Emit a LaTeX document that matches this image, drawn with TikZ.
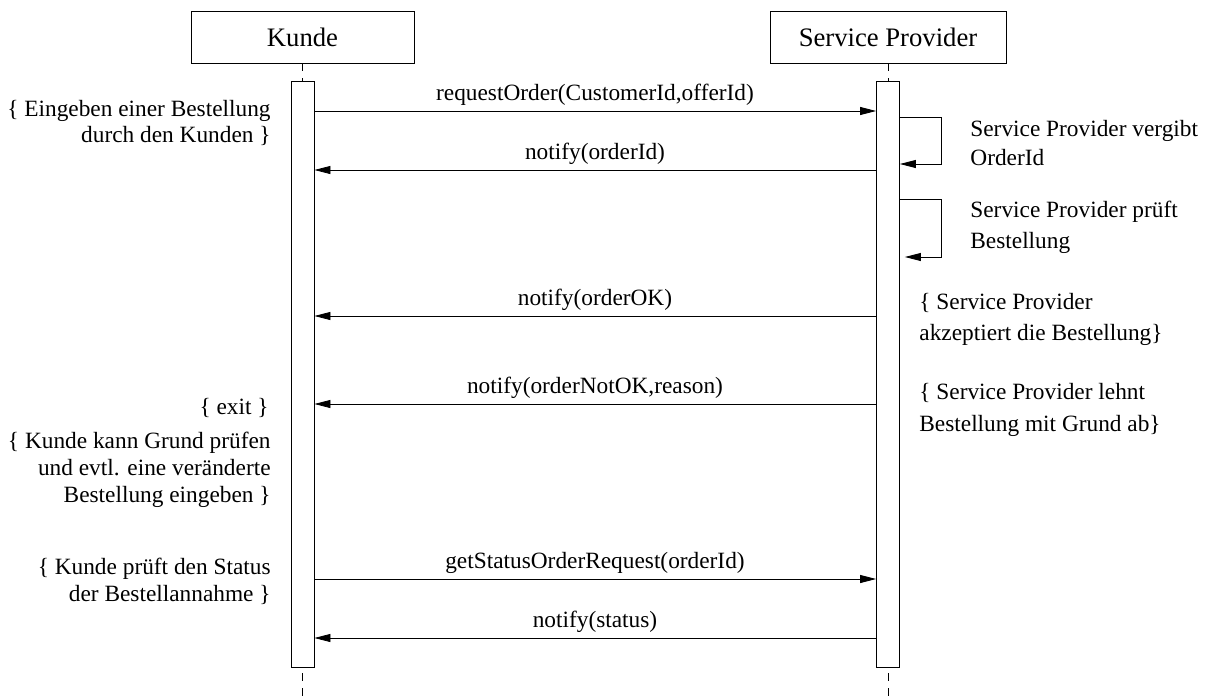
\documentclass[tikz,border=0pt]{standalone}
\usepackage{fontspec}
\setmainfont{Liberation Serif}
\usetikzlibrary{arrows.meta}
\begin{document}
\begin{tikzpicture}[x=0.75pt,y=-0.75pt,
  line width=0.6pt,
  actor/.style={draw, minimum height=39pt, inner sep=0pt,
    font=\fontsize{20pt}{24pt}\selectfont},
  actbar/.style={draw, fill=white, minimum width=17.25pt,
    minimum height=439.5pt, inner sep=0pt},
  life/.style={dash pattern=on 6pt off 5.25pt},
  msg/.style={-{Triangle[length=12pt,width=6pt]}},
  lbl/.style={font=\fontsize{17.5pt}{21pt}\selectfont, inner sep=0pt, anchor=base},
  note/.style={font=\fontsize{17.5pt}{#1}\selectfont, inner sep=0pt},
]
\useasboundingbox (0,0) rectangle (1207,696);

% participants and activation bars
\node[actor, minimum width=167.25pt] (kunde) at (302.5,37) {Kunde};
\node[actor, minimum width=177pt] (sp) at (888,37) {Service Provider};
\node[actbar] (kb) at (302.5,374) {};
\node[actbar] (sb) at (888,374) {};
\coordinate (kend) at (302.5,696);
\coordinate (send) at (888,696);

% lifelines
\draw[life] (kunde.south) -- (kb.north);
\draw[life] (sp.south) -- (sb.north);
\draw[life, dash phase=6.75pt] (kb.south) -- (kend);
\draw[life, dash phase=6.75pt] (sb.south) -- (send);

% message levels
\coordinate (m1) at (0,111);
\coordinate (m2) at (0,170);
\coordinate (m3) at (0,316);
\coordinate (m4) at (0,404);
\coordinate (m5) at (0,579);
\coordinate (m6) at (0,638);
\coordinate (s1a) at (0,117);
\coordinate (s1b) at (0,164);
\coordinate (s2a) at (0,199);
\coordinate (s2b) at (0,257);

% messages
\draw[msg] (kb.east |- m1) -- (sb.west |- m1);
\draw[msg] (sb.west |- m2) -- (kb.east |- m2);
\draw[msg] (sb.west |- m3) -- (kb.east |- m3);
\draw[msg] (sb.west |- m4) -- (kb.east |- m4);
\draw[msg] (kb.east |- m5) -- (sb.west |- m5);
\draw[msg] (sb.west |- m6) -- (kb.east |- m6);

% self messages
\draw[msg] (sb.east |- s1a) -- ++(41,0) |- (sb.east |- s1b);
\draw[msg] (sb.east |- s2a) -- ++(41,0) |- ([xshift=3.75pt]sb.east |- s2b);

% message labels
\node[lbl] (t1) at (595,100) {requestOrder(CustomerId,offerId)};
\node[lbl] (t2) at (595,159) {notify(orderId)};
\node[lbl] (t3) at (595,305) {notify(orderOK)};
\node[lbl] (t4) at (595,393) {notify(orderNotOK,reason)};
\node[lbl] (t5) at (595,568) {getStatusOrderRequest(orderId)};
\node[lbl] (t6) at (595,627) {notify(status)};

% notes beside the Kunde lifeline
\node[note=19.5pt, anchor=base east] (n1) at (271,116)
  {\begin{tabular}[t]{@{}r@{}}\{ Eingeben einer Bestellung\\ durch den Kunden \}\end{tabular}};
\node[note=19.5pt, anchor=base east] (n2) at (269,414) {\{ exit \}};
\node[note=20.25pt, anchor=base east] (n3) at (271,448)
  {\begin{tabular}[t]{@{}r@{}}\{ Kunde kann Grund prüfen\\ und evtl. eine veränderte\\ Bestellung eingeben \}\end{tabular}};
\node[note=20.25pt, anchor=base east] (n4) at (271,574)
  {\begin{tabular}[t]{@{}r@{}}\{ Kunde prüft den Status\\ der Bestellannahme \}\end{tabular}};

% notes beside the Service Provider lifeline
\node[note=21.75pt, anchor=base west] (r1) at (970,136)
  {\begin{tabular}[t]{@{}l@{}}Service Provider vergibt\\ OrderId\end{tabular}};
\node[note=23.25pt, anchor=base west] (r2) at (970,217)
  {\begin{tabular}[t]{@{}l@{}}Service Provider prüft\\ Bestellung\end{tabular}};
\node[note=23.25pt, anchor=base west] (r3) at (919,309)
  {\begin{tabular}[t]{@{}l@{}}\{ Service Provider\\ akzeptiert die Bestellung\}\end{tabular}};
\node[note=24pt, anchor=base west] (r4) at (919,399)
  {\begin{tabular}[t]{@{}l@{}}\{ Service Provider lehnt\\ Bestellung mit Grund ab\}\end{tabular}};
\end{tikzpicture}
\end{document}
